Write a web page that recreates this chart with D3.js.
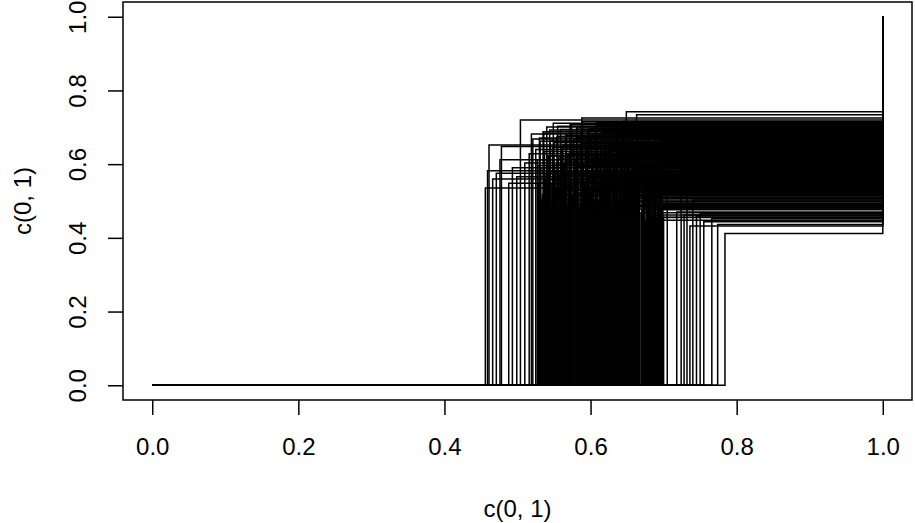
<!DOCTYPE html>
<html>
<head>
<meta charset="utf-8">
<script src="https://cdn.jsdelivr.net/npm/d3@7"></script>
<style>
  body { margin: 0; background: #fff; }
  svg text { font-family: "Liberation Sans", Arial, Helvetica, sans-serif; fill: #000; }
</style>
</head>
<body>
<svg id="plot"></svg>
<script>
// step points: each curve runs (0,0) -> (x,0) -> (x,y) -> (1,y) -> (1,1)
const stepX = [
  0.456, 0.459, 0.461, 0.466, 0.471, 0.476, 0.478, 0.488, 0.493, 0.499,
  0.504, 0.510, 0.516, 0.519, 0.521, 0.525,
  0.527, 0.529, 0.530, 0.532, 0.533, 0.535, 0.537, 0.538, 0.540, 0.541,
  0.543, 0.545, 0.546, 0.548, 0.549, 0.551, 0.553, 0.554, 0.556, 0.557,
  0.559, 0.561, 0.562, 0.564, 0.565, 0.567, 0.569, 0.570, 0.572, 0.573,
  0.575, 0.577, 0.578, 0.580, 0.581, 0.583, 0.585, 0.586, 0.588, 0.589,
  0.591, 0.593, 0.594, 0.596, 0.597, 0.599, 0.601, 0.602, 0.604, 0.605,
  0.607, 0.609, 0.610, 0.612, 0.613, 0.615, 0.617, 0.618, 0.620, 0.621,
  0.623, 0.625, 0.626, 0.628, 0.629, 0.631, 0.633, 0.634, 0.636, 0.637,
  0.639, 0.641, 0.642, 0.644, 0.645, 0.647, 0.649, 0.650, 0.652, 0.653,
  0.655, 0.657, 0.658, 0.660, 0.661, 0.663, 0.665, 0.667,
  0.669, 0.671, 0.672, 0.674, 0.675, 0.677, 0.679, 0.680, 0.682, 0.683,
  0.685, 0.687, 0.688, 0.690, 0.691, 0.693, 0.695, 0.696, 0.698, 0.699,
  0.700, 0.705, 0.718, 0.724, 0.728, 0.732, 0.736, 0.740, 0.745, 0.750,
  0.755, 0.766, 0.774, 0.784,
  // second batch of curves, stepping inside the dense band
  0.528, 0.531, 0.534, 0.536, 0.539, 0.542, 0.544, 0.547, 0.550, 0.552,
  0.555, 0.558, 0.560, 0.563, 0.566, 0.568, 0.571, 0.574, 0.576, 0.579,
  0.582, 0.584, 0.587, 0.590, 0.592, 0.595, 0.598, 0.600, 0.603, 0.606,
  0.608, 0.611, 0.614, 0.616, 0.619, 0.622, 0.624, 0.627, 0.630, 0.632,
  0.635, 0.638, 0.640, 0.643, 0.646, 0.648, 0.651, 0.654, 0.656, 0.659,
  0.662, 0.664, 0.666, 0.670, 0.673, 0.676, 0.678, 0.681, 0.684, 0.686,
  0.689, 0.692, 0.694, 0.697
];
const stepY = [
  0.535, 0.582, 0.652, 0.560, 0.575, 0.612, 0.648, 0.548, 0.590, 0.566,
  0.720, 0.603, 0.628, 0.682, 0.668, 0.640,
  0.612, 0.548, 0.671, 0.590, 0.503, 0.688, 0.634, 0.557, 0.701, 0.622,
  0.579, 0.663, 0.492, 0.645, 0.711, 0.598, 0.531, 0.676, 0.617, 0.569,
  0.694, 0.541, 0.652, 0.606, 0.484, 0.683, 0.627, 0.574, 0.707, 0.639,
  0.514, 0.667, 0.594, 0.552, 0.698, 0.629, 0.478, 0.657, 0.725, 0.715,
  0.536, 0.642, 0.609, 0.691, 0.563, 0.525, 0.679, 0.601, 0.648, 0.497,
  0.704, 0.582, 0.659, 0.544, 0.619, 0.686, 0.508, 0.636, 0.571, 0.713,
  0.603, 0.528, 0.674, 0.655, 0.488, 0.696, 0.615, 0.560, 0.631, 0.709,
  0.577, 0.519, 0.668, 0.716, 0.538, 0.650, 0.742, 0.628, 0.624, 0.681,
  0.566, 0.700, 0.511, 0.646, 0.587, 0.734, 0.555, 0.637,
  0.468, 0.592, 0.657, 0.533, 0.448, 0.611, 0.689, 0.507, 0.574, 0.462,
  0.643, 0.521, 0.705, 0.456, 0.599, 0.482, 0.665, 0.545, 0.626, 0.490,
  0.455, 0.620, 0.470, 0.585, 0.462, 0.540, 0.432, 0.503, 0.459, 0.466,
  0.444, 0.452, 0.436, 0.412,
  0.596, 0.662, 0.517, 0.684, 0.573, 0.623, 0.693, 0.546, 0.658, 0.581,
  0.703, 0.529, 0.641, 0.599, 0.677, 0.486, 0.633, 0.708, 0.561, 0.614,
  0.672, 0.523, 0.689, 0.605, 0.551, 0.661, 0.697, 0.539, 0.618, 0.584,
  0.712, 0.499, 0.647, 0.571, 0.685, 0.526, 0.635, 0.702, 0.558, 0.621,
  0.679, 0.509, 0.653, 0.592, 0.706, 0.543, 0.628, 0.566, 0.690, 0.611,
  0.532, 0.673, 0.588, 0.476, 0.644, 0.515, 0.699, 0.557, 0.625, 0.494,
  0.669, 0.535, 0.608, 0.481
];
const xTicks = [0, 0.2, 0.4, 0.6, 0.8, 1];
const yTicks = [0, 0.2, 0.4, 0.6, 0.8, 1];
const xTitle = "c(0, 1)";
const yTitle = "c(0, 1)";

const canvWidth = 915;
const canvHeight = 523;
const box = { left: 123, right: 912, top: 2, bottom: 400 };
const fontSize = 24;

const svg = d3.select("#plot")
  .attr("width", canvWidth)
  .attr("height", canvHeight);

// R pads the range by 4% on each side
const x = d3.scaleLinear().domain([-0.04, 1.04]).range([box.left, box.right]);
const y = d3.scaleLinear().domain([-0.04, 1.04]).range([box.bottom, box.top]);

const curves = stepX.map(function (sx, i) {
  const sy = stepY[i];
  return [[0, 0], [sx, 0], [sx, sy], [1, sy], [1, 1]];
});

const line = d3.line()
  .x(function (d) { return x(d[0]); })
  .y(function (d) { return y(d[1]); });

svg.append("g")
  .selectAll("path")
  .data(curves)
  .enter().append("path")
  .attr("d", line)
  .attr("fill", "none")
  .attr("stroke", "#000")
  .attr("stroke-width", 1.5);

// axes
const xAxis = svg.append("g")
  .attr("transform", "translate(0," + box.bottom + ")")
  .call(d3.axisBottom(x).tickValues(xTicks).tickSize(15).tickSizeOuter(0)
    .tickFormat(d3.format(".1f")));
const yAxis = svg.append("g")
  .attr("transform", "translate(" + box.left + ",0)")
  .call(d3.axisLeft(y).tickValues(yTicks).tickSize(15).tickSizeOuter(0)
    .tickFormat(d3.format(".1f")));

[xAxis, yAxis].forEach(function (a) {
  a.attr("font-size", null).attr("font-family", null);
  a.select(".domain").remove();
  a.selectAll("line").attr("stroke", "#000").attr("stroke-width", 1.5);
  a.selectAll("text").style("font-size", fontSize + "px");
});

xAxis.selectAll("text")
  .attr("y", 47)
  .attr("dy", "0.35em");

yAxis.selectAll("text")
  .attr("x", null)
  .attr("text-anchor", "middle")
  .attr("transform", "translate(-45,0) rotate(-90)")
  .attr("dy", "0.35em");

// plot frame
svg.append("rect")
  .attr("x", box.left)
  .attr("y", box.top)
  .attr("width", box.right - box.left)
  .attr("height", box.bottom - box.top)
  .attr("fill", "none")
  .attr("stroke", "#000")
  .attr("stroke-width", 1.5);

// axis titles
svg.append("text")
  .attr("x", (box.left + box.right) / 2)
  .attr("y", 509)
  .attr("dy", "0.35em")
  .attr("text-anchor", "middle")
  .style("font-size", fontSize + "px")
  .text(xTitle);

svg.append("text")
  .attr("transform", "translate(23," + (box.top + box.bottom) / 2 + ") rotate(-90)")
  .attr("dy", "0.35em")
  .attr("text-anchor", "middle")
  .style("font-size", fontSize + "px")
  .text(yTitle);
</script>
</body>
</html>
